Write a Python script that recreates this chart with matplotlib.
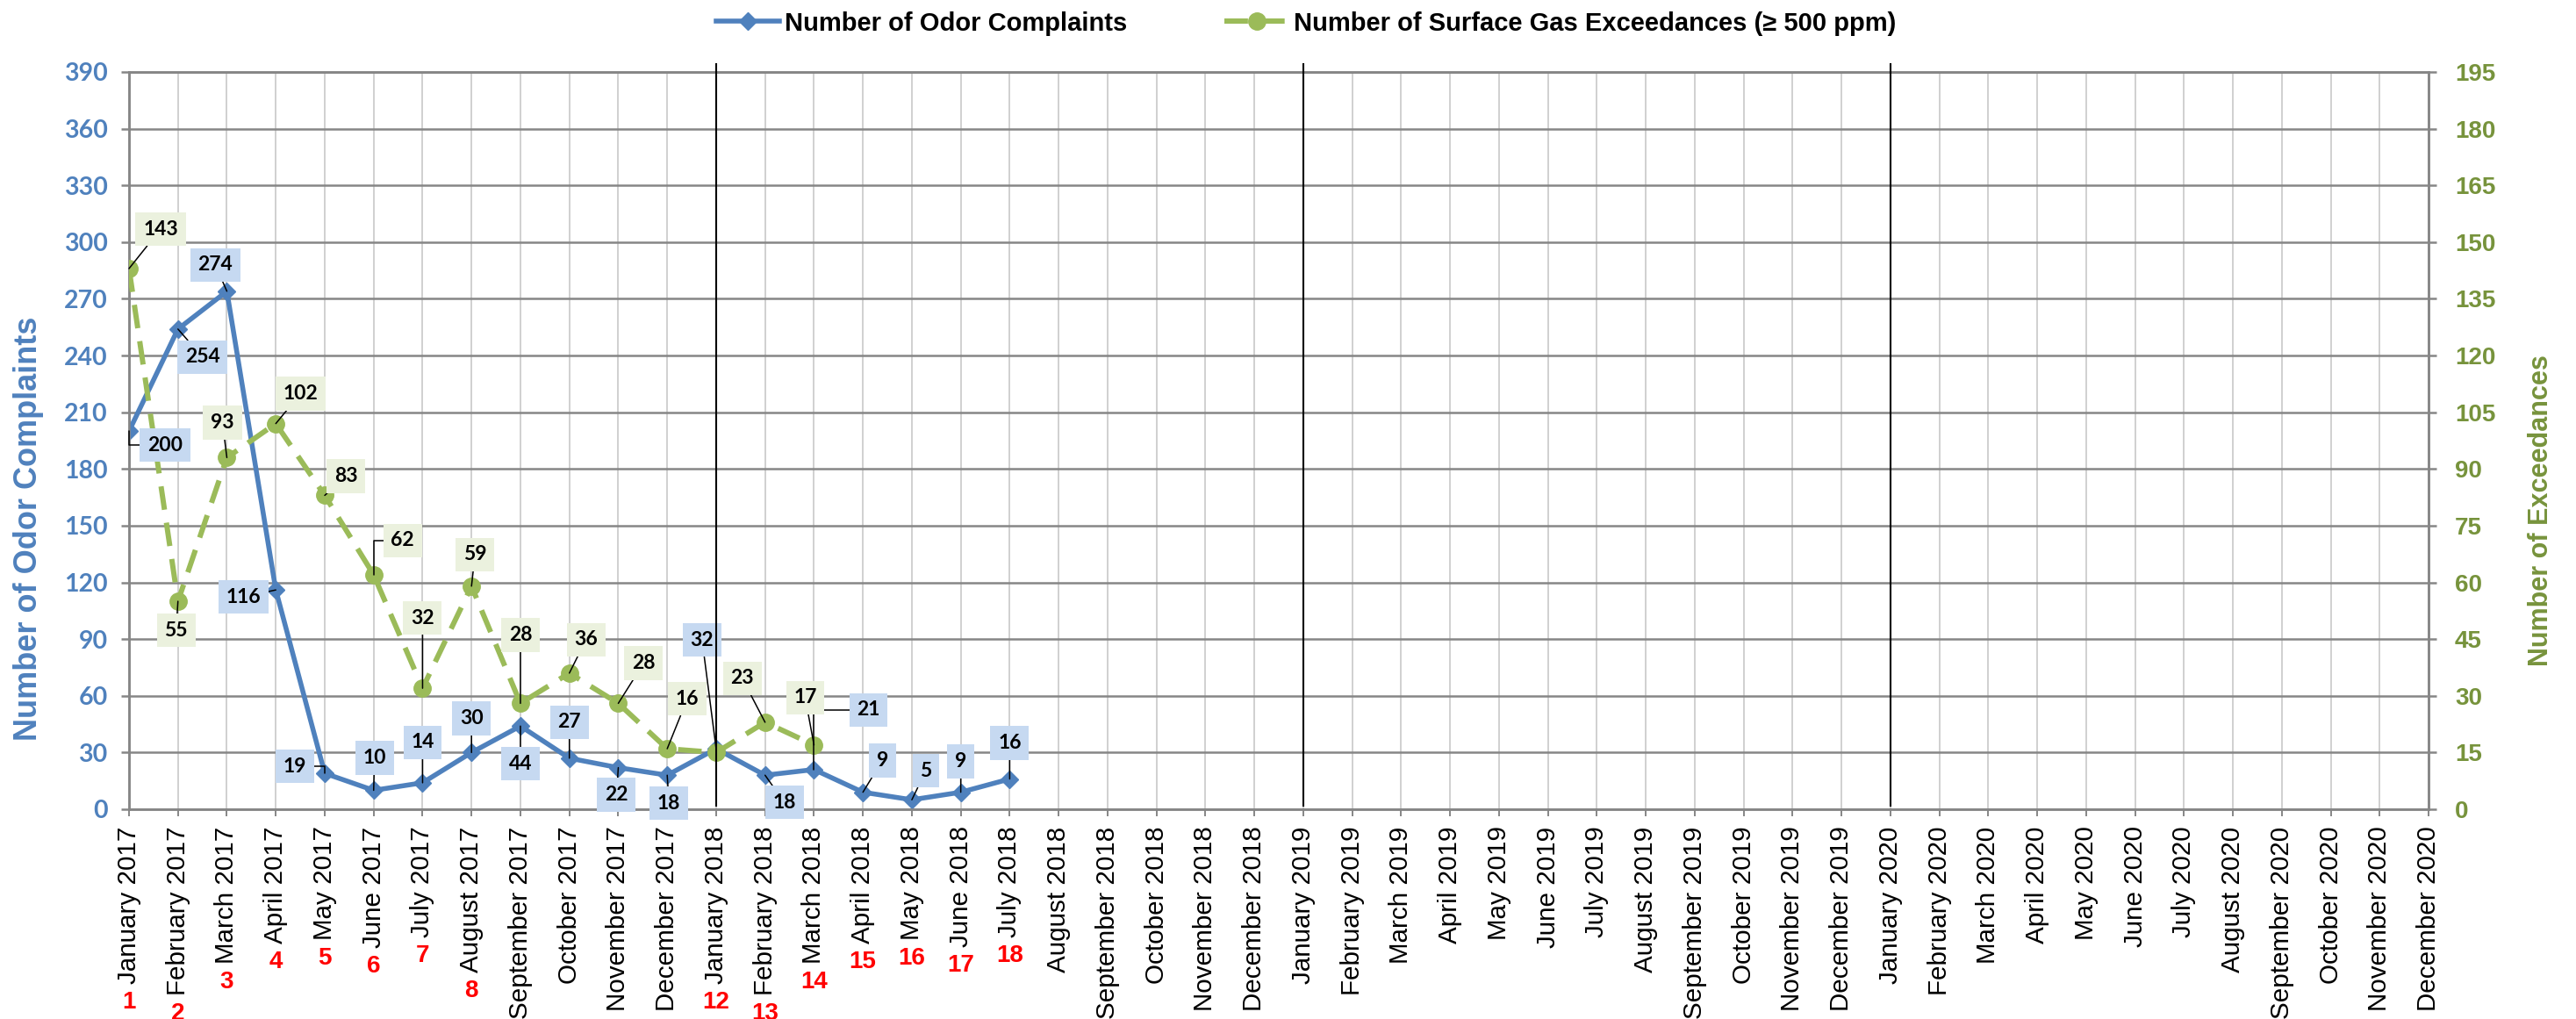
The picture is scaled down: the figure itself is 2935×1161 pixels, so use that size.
import matplotlib.pyplot as plt

# data
month_names = ["January", "February", "March", "April", "May", "June", "July",
               "August", "September", "October", "November", "December"]
years = [2017, 2018, 2019, 2020]
month_labels = [f"{m} {y}" for y in years for m in month_names]

odor = [200, 254, 274, 116, 19, 10, 14, 30, 44, 27, 22, 18, 32, 18, 21, 9, 5, 9, 16]
gas = [143, 55, 93, 102, 83, 62, 32, 59, 28, 36, 28, 16, 15, 23, 17]

# red event numbers written under the month labels ('' = none)
event_numbers = ["1", "2", "3", "4", "5", "6", "7", "8", "9", "", "10", "11",
                 "12", "13", "14", "15", "16", "17", "18"]

# label offsets in pixels (dx, dy up), None = no label
odor_offsets = [(41, -16), (28, -32), (-13, 30), (-37, -8), (-34, 8), (1, 37), (0, 46),
                (0, 39), (0, -43), (0, 41), (-2, -31), (2, -32), (-16, 124), (22, -31),
                (62, 68), (22, 36), (16, 33), (0, 35), (0, 41)]
gas_offsets = [(36, 45), (-2, -33), (-5, 40), (28, 34), (24, 22), (33, 39), (0, 80),
               (4, 36), (0, 78), (19, 38), (29, 46), (23, 57), None, (-26, 50), (-10, 54)]
odor_elbow = [0, 4, 14]
gas_elbow = [5]

BLUE = "#4F81BD"
GREEN = "#9BBB59"
DARK_GREEN = "#77933C"
GRID = "#868686"

fig = plt.figure(figsize=(29.35, 11.61), dpi=100)
ax = fig.add_axes([147 / 2935, 1 - 922 / 1161, 2620 / 2935, 840 / 1161])
ax2 = ax.twinx()

x_all = list(range(len(month_labels)))
x_odor = x_all[:len(odor)]
x_gas = x_all[:len(gas)]

l1, = ax.plot(x_odor, odor, color=BLUE, lw=4, marker="D", ms=10, mew=1,
              mec=BLUE, mfc=BLUE, zorder=3)
l2, = ax2.plot(x_gas, gas, color=GREEN, lw=4.3, linestyle=(0, (4.5, 2.5)),
               marker="o", ms=14, mec=GREEN, mfc=GREEN, zorder=3)

ax.set_xlim(0, len(month_labels) - 1)
ax.set_ylim(0, 390)
ax2.set_ylim(0, 195)
ax.set_yticks(range(0, 391, 30))
ax2.set_yticks(range(0, 196, 15))
ax.set_xticks(x_all)
ax.set_xticklabels(month_labels, rotation=90, fontsize=21.3, family="Liberation Sans")

# grid and spines
ax.set_axisbelow(True)
ax.grid(axis="y", color=GRID, lw=1.8)
ax.grid(axis="x", color="#D0D0D0", lw=1.4)
for a in (ax, ax2):
    for s in a.spines.values():
        s.set_color(GRID)
        s.set_linewidth(1.8)

ax.tick_params(axis="x", direction="out", length=6, width=1.4, color=GRID, pad=8)
ax.tick_params(axis="y", direction="out", length=6.5, width=1.8, color=GRID, pad=11,
               labelcolor=BLUE, labelsize=20.5)
ax2.tick_params(axis="y", direction="out", length=6.5, width=1.8, color=GRID, pad=15,
                labelcolor=DARK_GREEN, labelsize=20)
for t in ax.get_yticklabels():
    t.set_fontfamily("Lato")
    t.set_fontweight("bold")
for t in ax2.get_yticklabels():
    t.set_fontfamily("Liberation Sans")
    t.set_fontweight("bold")

ax.set_ylabel("Number of Odor Complaints", color=BLUE, fontsize=26, fontweight="bold",
              family="Liberation Sans")
ax.yaxis.set_label_coords(-0.037, 0.38)
ax2.set_ylabel("Number of Exceedances", color=DARK_GREEN, fontsize=22, fontweight="bold",
               family="Liberation Sans", rotation=90)
ax2.yaxis.set_label_coords(1.043, 0.405)

# year separator lines
for yr in range(1, len(years)):
    ax2.axvline(12 * yr, ymin=0.005, ymax=1.011, color="black", lw=1.5,
                clip_on=False, zorder=10)


def add_labels(values, xs, offsets, elbows, face, yconv):
    for i, (xv, v) in enumerate(zip(xs, values)):
        if offsets[i] is None:
            continue
        conn = "angle,angleA=0,angleB=90,rad=0" if i in elbows else "arc3"
        ax2.annotate(str(v), xy=(xv, v), xycoords=yconv, xytext=offsets[i],
                     textcoords="offset pixels", ha="center", va="center",
                     fontsize=16.5, fontweight="bold", family="Lato", color="black",
                     bbox=dict(boxstyle="square,pad=0.38", fc=face, ec="none"),
                     arrowprops=dict(arrowstyle="-", color="black", lw=1.1,
                                     shrinkA=0, shrinkB=0, connectionstyle=conn),
                     zorder=8)


add_labels(odor, x_odor, odor_offsets, odor_elbow, "#C6D9F1", ax.transData)
add_labels(gas, x_gas, gas_offsets, gas_elbow, "#EBF1DE", ax2.transData)

fig.legend(handles=[l1, l2],
           labels=["Number of Odor Complaints",
                   "Number of Surface Gas Exceedances (\u2265 500 ppm)"],
           loc="center", bbox_to_anchor=(0.507, 0.977), ncol=2, frameon=False,
           prop=dict(family="Liberation Sans", weight="bold", size=21),
           handlelength=2.5, handletextpad=0.2, columnspacing=3.8, numpoints=1)

# red numbers just below each rotated month label
fig.canvas.draw()
renderer = fig.canvas.get_renderer()
W, H = fig.bbox.width, fig.bbox.height
ticklabels = ax.get_xticklabels()
for i, num in enumerate(event_numbers):
    if not num:
        continue
    bb = ticklabels[i].get_window_extent(renderer)
    fig.text((bb.x0 + bb.x1) / 2 / W, (bb.y0 - 8) / H, num, ha="center", va="top",
             color="red", fontsize=20, fontweight="bold", family="Liberation Sans")

fig.savefig("out.png", dpi=100)
